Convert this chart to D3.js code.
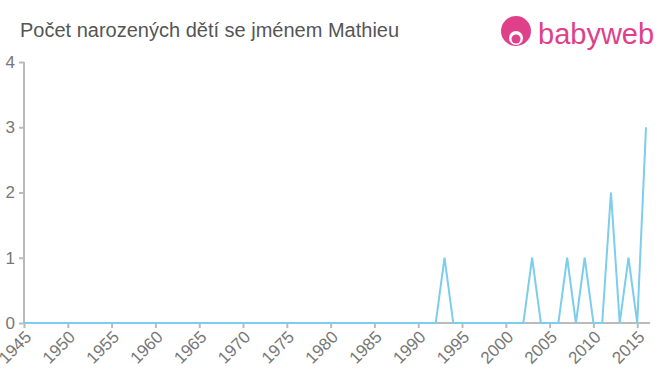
<!DOCTYPE html>
<html><head><meta charset="utf-8">
<script src="https://cdn.jsdelivr.net/npm/d3@7/dist/d3.min.js"></script>
<style>body{margin:0;background:#fff}svg{display:block;font-family:"Liberation Sans",Arial,sans-serif}</style>
</head><body><svg id="c" width="660" height="375"></svg>
<script>
const title = "Počet narozených dětí se jménem Mathieu";
const years = d3.range(1945, 2017);
const nonZero = {1993:1, 2003:1, 2007:1, 2009:1, 2012:2, 2014:1, 2016:3};
const counts = years.map(y => nonZero[y] || 0);
const xTicks = d3.range(1945, 2016, 5);
const yTicks = [0,1,2,3,4];

const svg = d3.select("#c");
const x = d3.scaleLinear().domain([1945, 2016]).range([24, 646]);
const y = d3.scaleLinear().domain([0, 4]).range([323, 62]);

svg.append("text").attr("x", 20).attr("y", 37).attr("fill", "#555").attr("font-size", 20).text(title);

// axes
const ya = svg.append("g").attr("transform", "translate(24,0)")
  .call(d3.axisLeft(y).tickValues(yTicks).tickFormat(d3.format("d")).tickSize(5).tickSizeOuter(0).tickPadding(4));
ya.select(".domain").attr("stroke", "#bbb").attr("stroke-width", 2).attr("d", `M0,${y(4)}V${y(0)}`);
ya.selectAll(".tick line").attr("stroke", "#bbb").attr("stroke-width", 2);
ya.selectAll(".tick text").attr("fill", "#777").attr("font-size", 17).attr("font-family", "Liberation Sans, Arial, sans-serif");

const xa = svg.append("g").attr("transform", "translate(0,323)")
  .call(d3.axisBottom(x).tickValues(xTicks).tickFormat(d3.format("d")).tickSize(5).tickSizeOuter(0));
xa.select(".domain").attr("stroke", "#bbb").attr("stroke-width", 2).attr("d", `M24,0H650`);
xa.selectAll(".tick line").attr("stroke", "#bbb").attr("stroke-width", 2);
xa.selectAll(".tick text").attr("fill", "#777").attr("font-size", 17)
  .attr("font-family", "Liberation Sans, Arial, sans-serif")
  .attr("text-anchor", "end").attr("dy", null).attr("y", 0)
  .attr("transform", "translate(8,15) rotate(-45)");

// line
svg.append("path").datum(years.map((yr, i) => [yr, counts[i]]))
  .attr("fill", "none").attr("stroke", "#7dcdec").attr("stroke-width", 2)
  .attr("d", d3.line().x(d => x(d[0])).y(d => y(d[1])));

// logo
const lg = svg.append("g");
lg.append("circle").attr("cx", 516).attr("cy", 31).attr("r", 15).attr("fill", "#e0408a");
lg.append("circle").attr("cx", 516).attr("cy", 38).attr("r", 7).attr("fill", "#fff");
lg.append("circle").attr("cx", 516).attr("cy", 39).attr("r", 4.5).attr("fill", "#e0408a");
lg.append("text").attr("x", 538).attr("y", 44).attr("fill", "#e0408a").attr("font-size", 29)
  .attr("font-family", "Liberation Sans, Arial, sans-serif").text("babyweb");
</script></body></html>
